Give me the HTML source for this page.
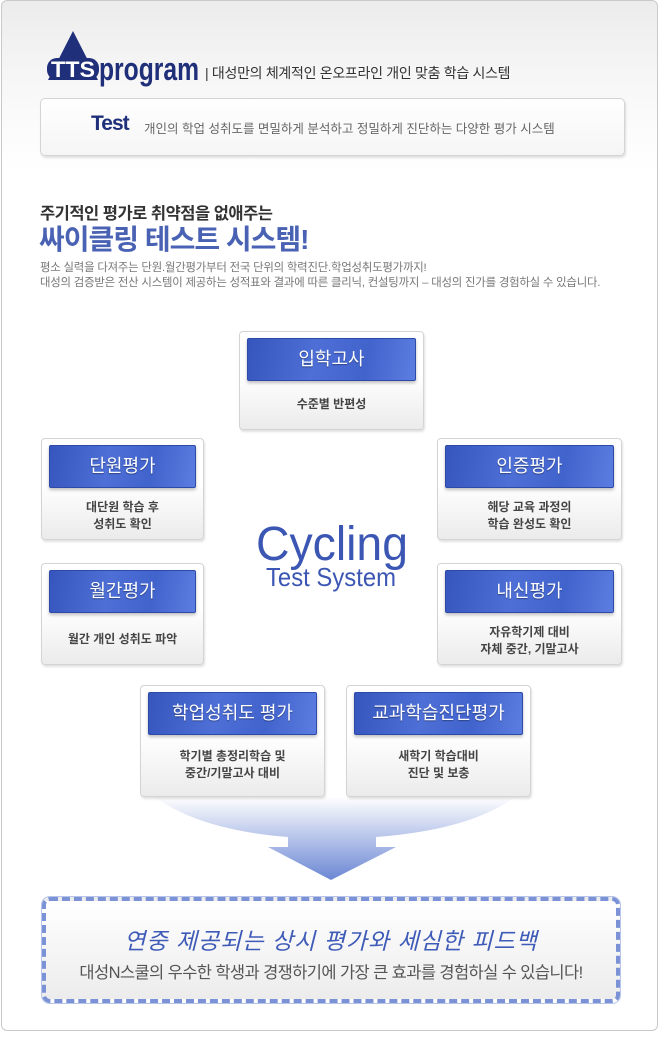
<!DOCTYPE html>
<html><head><meta charset="utf-8">
<style>
*{margin:0;padding:0;box-sizing:border-box}
body{width:660px;height:1037px;background:#fff;font-family:"Liberation Sans","Noto Sans CJK KR",sans-serif;position:relative;overflow:hidden}
.frame{position:absolute;left:1px;top:0;width:657px;height:1031px;border:1px solid #c9c9c9;border-radius:6px;background:linear-gradient(#ececec 0,#f8f8f8 90px,#fff 170px,#fff 100%)}
.abs{position:absolute}
.card{position:absolute;border:1px solid #d4d4d4;border-radius:4px;background:linear-gradient(#fff 45%,#ebebeb);box-shadow:1px 2px 2px rgba(0,0,0,.12)}
.hd{position:absolute;left:7px;right:7px;top:6px;height:43px;border-radius:2px;background:linear-gradient(100deg,#3656bd 0%,#4d6fd6 40%,#4163cc 70%,#5c7de0 100%);border:1px solid #2e4aa8;box-shadow:0 2px 3px rgba(0,0,0,.25);color:#fff;font-size:18px;text-align:center;line-height:41px;text-shadow:0 1px 1px rgba(0,0,0,.35)}
.bd{position:absolute;left:0;right:0;text-align:center;font-size:12px;color:#444;font-weight:bold;line-height:17px}
</style></head><body>
<div class="frame"></div>
<svg class="abs" style="left:44px;top:28px" width="160" height="60">
<polygon points="29,3 54,52 4,52" fill="#1f2f7a"/>
<rect x="3" y="30" width="52" height="22" rx="10" fill="#1f2f7a"/>
<text x="7" y="49" fill="#fff" font-family="Liberation Sans" font-weight="bold" font-size="22" textLength="44" lengthAdjust="spacingAndGlyphs">TTS</text>
<text x="55" y="52" fill="#1f2f7a" font-family="Liberation Sans" font-weight="bold" font-size="32" textLength="100" lengthAdjust="spacingAndGlyphs">program</text>
</svg>
<div class="abs" style="left:205px;top:63px;color:#333;font-size:14px;letter-spacing:-.3px">| 대성만의 체계적인 온오프라인 개인 맞춤 학습 시스템</div>
<div class="card" style="left:40px;top:98px;width:585px;height:58px;border-radius:5px;background:linear-gradient(#fff,#f5f5f5)"></div>
<div class="abs" style="left:91px;top:112px;color:#1f2f7a;font-weight:bold;font-size:21px;letter-spacing:-1px">Test</div>
<div class="abs" style="left:144px;top:118px;color:#666;font-size:12.5px">개인의 학업 성취도를 면밀하게 분석하고 정밀하게 진단하는 다양한 평가 시스템</div>
<div class="abs" style="left:40px;top:200px;color:#333;font-weight:bold;font-size:16.5px;letter-spacing:-.5px">주기적인 평가로 취약점을 없애주는</div>
<div class="abs" style="left:39px;top:218px;color:#4a62b4;font-weight:bold;font-size:28px;letter-spacing:-1px">싸이클링 테스트 시스템!</div>
<div class="abs" style="left:40px;top:261px;color:#777;font-size:11.4px;line-height:15px;letter-spacing:-.2px">평소 실력을 다져주는 단원.월간평가부터 전국 단위의 학력진단.학업성취도평가까지!<br>대성의 검증받은 전산 시스템이 제공하는 성적표와 결과에 따른 클리닉, 컨설팅까지 – 대성의 진가를 경험하실 수 있습니다.</div>

<svg class="abs" style="left:140px;top:790px" width="400" height="95"><defs><linearGradient id="g" x1="0" y1="0" x2="0" y2="1"><stop offset="0" stop-color="#fff"/><stop offset="1" stop-color="#6b87d4"/></linearGradient></defs>
<path d="M15,7 L375,7 Q330,40 236,47 L236,57 L256,57 L191,90 L128,57 L148,57 L148,47 Q60,40 15,7Z" fill="url(#g)"/></svg>

<div class="card" style="left:239px;top:331px;width:185px;height:99px"><div class="hd">입학고사</div><div class="bd" style="top:64px">수준별 반편성</div></div>
<div class="card" style="left:41px;top:438px;width:163px;height:102px"><div class="hd">단원평가</div><div class="bd" style="top:60px">대단원 학습 후<br>성취도 확인</div></div>
<div class="card" style="left:437px;top:438px;width:185px;height:102px"><div class="hd">인증평가</div><div class="bd" style="top:60px">해당 교육 과정의<br>학습 완성도 확인</div></div>
<div class="card" style="left:41px;top:563px;width:163px;height:102px"><div class="hd">월간평가</div><div class="bd" style="top:67px">월간 개인 성취도 파악</div></div>
<div class="card" style="left:437px;top:563px;width:185px;height:102px"><div class="hd">내신평가</div><div class="bd" style="top:60px">자유학기제 대비<br>자체 중간, 기말고사</div></div>
<div class="card" style="left:140px;top:685px;width:185px;height:112px"><div class="hd">학업성취도 평가</div><div class="bd" style="top:62px">학기별 총정리학습 및<br>중간/기말고사 대비</div></div>
<div class="card" style="left:346px;top:685px;width:185px;height:112px"><div class="hd">교과학습진단평가</div><div class="bd" style="top:62px">새학기 학습대비<br>진단 및 보충</div></div>

<svg class="abs" style="left:250px;top:510px" width="170" height="85">
<text x="6" y="50" fill="#3c56b4" font-family="Liberation Sans" font-size="48" textLength="152" lengthAdjust="spacingAndGlyphs">Cycling</text>
<text x="16" y="76" fill="#3c56b4" font-family="Liberation Sans" font-size="26" textLength="130" lengthAdjust="spacingAndGlyphs">Test System</text>
</svg>

<div class="abs" style="left:42px;top:897px;width:578px;height:106px;border:4px dashed #7b92d6;border-radius:8px;background:linear-gradient(#fff,#ececec);box-shadow:0 0 0 1px #b8c5ea"></div>
<div class="abs" style="left:42px;top:922px;width:578px;text-align:center;color:#3f5bb8;font-size:23px;font-style:italic;letter-spacing:1px">연중 제공되는 상시 평가와 세심한 피드백</div>
<div class="abs" style="left:42px;top:959px;width:578px;text-align:center;color:#555;font-size:16.5px;letter-spacing:-.6px">대성N스쿨의 우수한 학생과 경쟁하기에 가장 큰 효과를 경험하실 수 있습니다!</div>
</body></html>
